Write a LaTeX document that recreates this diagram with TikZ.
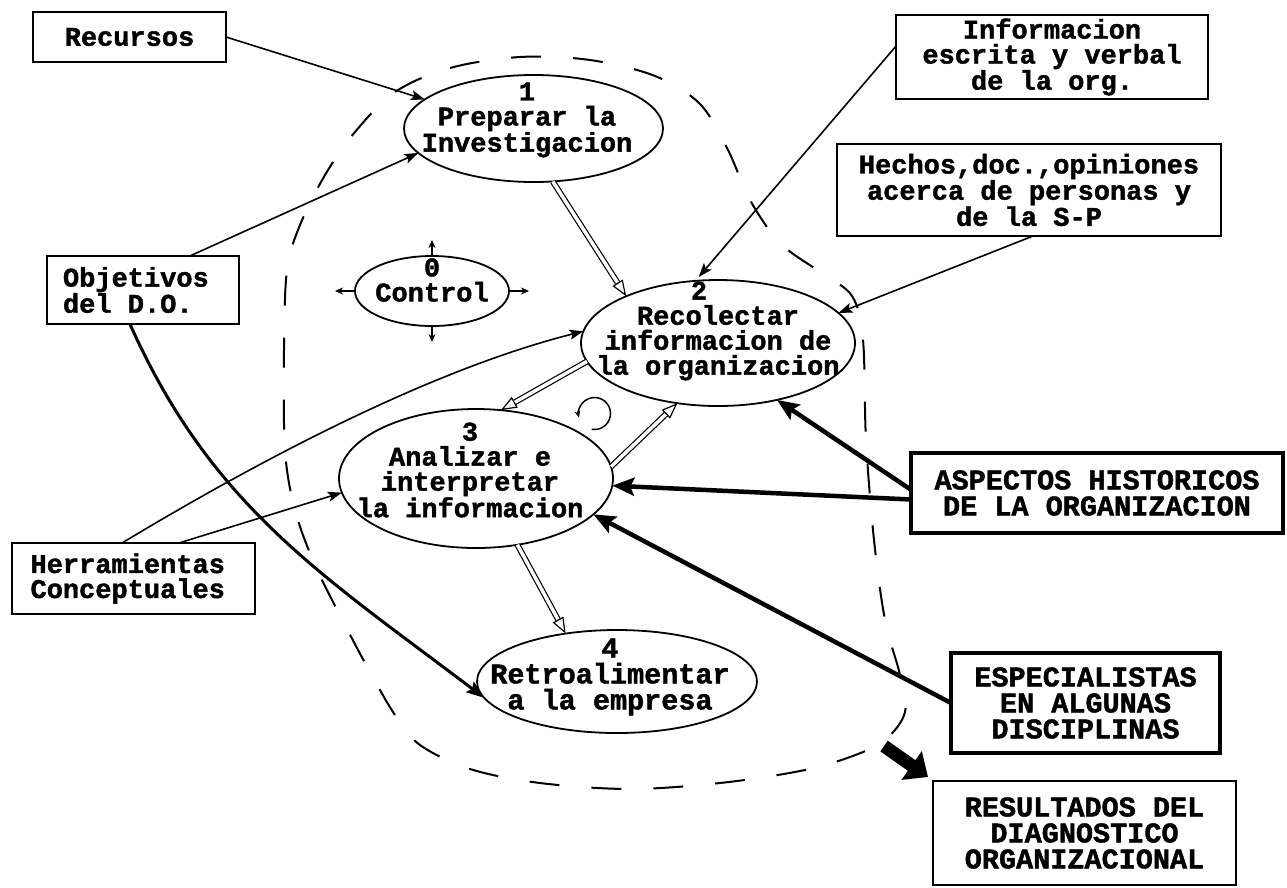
\documentclass[tikz,border=0pt]{standalone}
\usepackage{fontspec}
\setmainfont{Liberation Mono}[BoldFeatures={FakeBold=1.5}]
\usetikzlibrary{arrows.meta,shapes.geometric,calc}
\begin{document}
\begin{tikzpicture}[x=1pt,y=1pt,
  lbl/.style={font=\fontsize{27}{25}\selectfont\bfseries, align=center, inner sep=0pt},
  ulbl/.style={font=\fontsize{28.5}{26}\selectfont\bfseries, align=center, inner sep=0pt},
  box/.style={draw, line width=2.4pt, inner sep=0pt, outer sep=0pt},
  hbox/.style={draw, line width=4.5pt, inner sep=0pt, outer sep=0pt},
  ell/.style={draw, ellipse, line width=1.8pt, inner sep=0pt, outer sep=0pt},
  arr/.style={line width=1.6pt, -{Stealth[length=14pt,width=10pt,inset=3pt]}},
  heavyarr/.style={line width=4.5pt, -{Stealth[length=22pt,width=18pt,inset=4pt]}},
  curvearr/.style={line width=3pt, -{Stealth[length=18pt,width=13pt,inset=3pt]}},
  dbl/.style={double, double distance=3.5pt, line width=1.2pt},
  hhead/.style={line width=1.2pt, -{Triangle[open,length=16pt,width=12pt]}},
  carr/.style={line width=1.4pt, -{Stealth[length=8pt,width=7pt]}},
  bound/.style={line width=2pt, dash pattern=on 30pt off 32pt},
]
\newcommand\hollowarrow[2]{%
  \draw[dbl] (#1) -- ($(#2)!16pt!(#1)$);
  \draw[hhead] ($(#2)!16pt!(#1)$) -- (#2);}

\useasboundingbox (0,0) rectangle (1287,-887);

% dashed boundary of the diagnosis process
\draw[bound] plot[smooth cycle, tension=0.55] coordinates {
  (395,-92) (450,-68) (520,-57) (590,-60) (655,-76) (700,-104) (728,-150)
  (750,-200) (780,-243) (820,-272) (852,-296) (863,-340) (866,-440)
  (874,-540) (885,-620) (900,-675) (905,-712) (885,-740) (850,-757)
  (800,-771) (720,-783) (630,-789) (540,-783) (470,-769) (420,-745)
  (395,-715) (370,-672) (345,-625) (315,-565) (295,-510) (285,-450)
  (284,-350) (287,-270) (300,-225) (325,-175) (355,-132)};

% process ellipses
\node[ell, minimum width=259pt, minimum height=107pt] (e1) at (533.5,-128.5) {};
\node[ell, minimum width=154pt, minimum height=70pt] (c) at (432,-291) {};
\node[ell, minimum width=274pt, minimum height=126pt] (e2) at (718,-343) {};
\node[ell, minimum width=274pt, minimum height=139pt] (e3) at (476,-478.5) {};
\node[ell, minimum width=280pt, minimum height=103pt] (e4) at (617,-681.5) {};

\node[lbl] (t1) at (527,-120) {1\\Preparar la\\Investigacion};
\node[lbl] (t0) at (432,-280) {0\\Control};
\node[lbl] (t2) at (718,-331) {2\hspace*{38pt}\\Recolectar\hspace*{22pt}\\informacion de\\la organizacion};
\node[lbl] (t3) at (470,-470) {3\\Analizar e\hspace*{34pt}\\interpretar\hspace*{64pt}\\la informacion};
\node[lbl, font=\fontsize{28.5}{26}\selectfont\bfseries] (t4) at (610,-677) {4\\Retroalimentar\\a la empresa};

% input and output boxes
\node[box, lbl, minimum width=193pt, minimum height=50pt] (rec) at (129.5,-37) {Recursos};
\node[box, lbl, minimum width=192pt, minimum height=68pt, text width=160pt, align=left] (ob) at (143,-290) {Objetivos\\del\hspace{0.6em}D.O.};
\node[box, lbl, minimum width=243pt, minimum height=71pt, text width=206pt, align=left] (hr) at (133.5,-578.5) {Herramientas\\Conceptuales};
\node[box, lbl, minimum width=312pt, minimum height=84pt] (inf) at (1052,-57) {Informacion\\escrita y verbal\\de la org.};
\node[box, lbl, minimum width=384pt, minimum height=92pt] (hc) at (1029,-190) {Hechos,doc.,opiniones\\acerca de personas y\\de la S-P};
\node[hbox, ulbl, minimum width=372pt, minimum height=80pt] (asp) at (1097,-493) {ASPECTOS HISTORICOS\\DE LA ORGANIZACION};
\node[hbox, ulbl, minimum width=269pt, minimum height=100pt] (esp) at (1085.5,-703) {ESPECIALISTAS\\EN ALGUNAS\\DISCIPLINAS};
\node[box, ulbl, minimum width=303pt, minimum height=104pt] (res) at (1084.5,-833) {RESULTADOS DEL\\DIAGNOSTICO\\ORGANIZACIONAL};

% inputs
\draw[arr] (rec.east) -- (e1.165);
\draw[arr] (ob.36) -- (e1.192);
\draw[curvearr] (ob.249) .. controls (211,-506) and (322,-575) .. (e4.187);
\draw[arr] (hr.108) .. controls (260,-460) and (430,-370) .. (e2.175);
\draw[arr] (hr.38) -- (e3.186);
\draw[arr, shorten >=5pt] (inf.176) -- (e2.110);
\draw[arr] ($(hc.south)+(4,0)$) -- (e2.14);
\draw[heavyarr] (asp.179) -- (e2.-44);
\draw[heavyarr] (asp.182) -- (e3.-3);
\draw[heavyarr] (esp.west) -- (e3.-17);

% flow between the stages
\hollowarrow{e1.-70}{e2.153}
\hollowarrow{e2.188}{e3.70}
\hollowarrow{e3.5}{e2.236}
\hollowarrow{e3.-58}{e4.137}

% control in all directions
\coordinate (cu) at ($(c.north)+(0,16)$);
\coordinate (cd) at ($(c.south)+(0,-16)$);
\coordinate (cl) at ($(c.west)+(-20,0)$);
\coordinate (cr) at ($(c.east)+(20,0)$);
\draw[carr] (c.north) -- (cu);
\draw[carr] (c.south) -- (cd);
\draw[carr] (c.west) -- (cl);
\draw[carr] (c.east) -- (cr);

% iteration between collecting and analysing
\coordinate (lc) at (594.5,-413.5);
\draw[line width=1.5pt, -{Stealth[length=7pt,width=6pt]}] ($(lc)+(-100:16)$) arc[start angle=-100, end angle=195, radius=16];

% output
\coordinate (bs) at (884,-746);
\coordinate (bt) at ($(res.north west)+(-5,4)$);
\draw[line width=13pt, -{Triangle[length=20pt,width=34pt]}] (bs) -- (bt);
\end{tikzpicture}
\end{document}
